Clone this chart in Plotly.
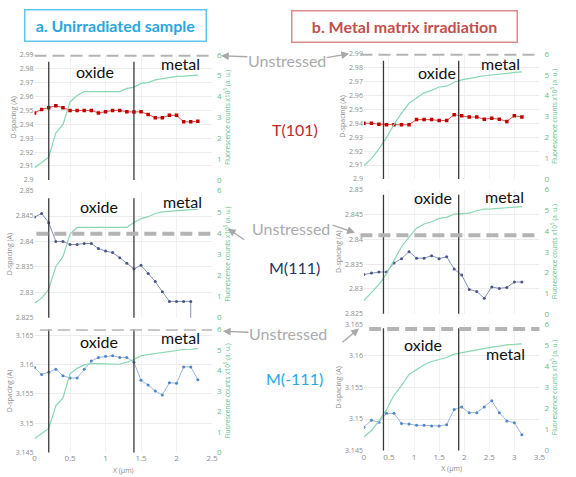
import plotly.graph_objects as go

W, H = 576, 477

# ---------------- data ----------------
x_left = [0, 0.1, 0.2, 0.3, 0.4, 0.5, 0.6, 0.7, 0.8, 0.9, 1.0, 1.1,
          1.2, 1.3, 1.4, 1.5, 1.6, 1.7, 1.8, 1.9, 2.0, 2.1, 2.2, 2.3]
x_right = [0, 0.15, 0.3, 0.45, 0.6, 0.75, 0.9, 1.05, 1.2, 1.35, 1.5, 1.65,
           1.8, 1.95, 2.1, 2.25, 2.4, 2.55, 2.7, 2.85, 3.0, 3.15]

# a. Unirradiated sample
t101_a = [2.9482, 2.9507, 2.952, 2.9533, 2.952, 2.950, 2.950, 2.950, 2.950, 2.9482,
          2.949, 2.950, 2.950, 2.949, 2.9489, 2.949, 2.9471, 2.9447, 2.9447, 2.9465,
          2.9465, 2.9418, 2.9418, 2.9423]
fl_t101_a = [0.58, 0.83, 1.09, 2.26, 2.65, 3.74, 4.05, 4.24, 4.24, 4.24, 4.24, 4.24,
             4.24, 4.39, 4.44, 4.63, 4.67, 4.80, 4.86, 4.94, 4.97, 4.98, 5.00, 5.03]
m111_a = [2.8448, 2.8455, 2.8437, 2.8400, 2.8400, 2.8394, 2.8394, 2.8396, 2.8396, 2.8386,
          2.8381, 2.8378, 2.8368, 2.8357, 2.8346, 2.8353, 2.8337, 2.8321, 2.8301, 2.8282,
          2.8282, 2.8282, 2.8282, 0.0]
fl_m111_a = [0.68, 0.92, 1.34, 2.42, 2.88, 3.95, 4.26, 4.26, 4.26, 4.26, 4.26, 4.26,
             4.26, 4.26, 4.49, 4.68, 4.77, 4.92, 5.00, 5.03, 5.06, 5.08, 5.10, 5.11]
m_111_a = [3.1595, 3.1583, 3.1587, 3.1592, 3.1581, 3.1577, 3.1577, 3.1592, 3.1606, 3.1612,
           3.1614, 3.1615, 3.1612, 3.1612, 3.1604, 3.1573, 3.1565, 3.1555, 3.1548, 3.1569,
           3.1568, 3.1596, 3.1596, 3.1574]
fl_m_111_a = [0.67, 0.94, 1.17, 2.27, 2.66, 3.83, 4.10, 4.27, 4.33, 4.33, 4.33, 4.30,
              4.30, 4.40, 4.53, 4.72, 4.77, 4.84, 4.88, 4.95, 5.00, 5.02, 5.03, 5.06]

# b. Metal matrix irradiation
t101_b = [2.940, 2.940, 2.9394, 2.939, 2.939, 2.939, 2.939, 2.9427, 2.9427, 2.9427,
          2.942, 2.942, 2.9462, 2.9455, 2.9445, 2.9445, 2.943, 2.9436, 2.943, 2.9414,
          2.9455, 2.9445]
fl_t101_b = [0.63, 0.97, 1.44, 1.98, 2.61, 3.16, 3.63, 3.86, 4.13, 4.25, 4.41, 4.45,
             4.64, 4.75, 4.83, 4.88, 4.95, 4.98, 5.03, 5.06, 5.11, 5.14]
m111_b = [2.8329, 2.8332, 2.8334, 2.8334, 2.8352, 2.8361, 2.8375, 2.8362, 2.8362, 2.8367,
          2.8361, 2.8365, 2.8340, 2.8328, 2.8299, 2.8295, 2.8281, 2.8304, 2.8301, 2.8303,
          2.8314, 2.8314]
fl_m111_b = [0.63, 1.03, 1.42, 1.93, 2.61, 3.24, 3.71, 4.14, 4.34, 4.45, 4.61, 4.66,
             4.82, 4.85, 4.87, 4.98, 5.06, 5.07, 5.10, 5.13, 5.16, 5.18]
m_111_b = [3.1487, 3.1498, 3.1495, 3.1509, 3.1509, 3.1493, 3.1492, 3.1490, 3.1490, 3.1489,
           3.1489, 3.1491, 3.1515, 3.1519, 3.1510, 3.1510, 3.1519, 3.1529, 3.1510, 3.1497,
           3.1494, 3.1475]
fl_m_111_b = [0.64, 0.95, 1.41, 1.94, 2.63, 3.09, 3.62, 3.85, 4.08, 4.24, 4.34, 4.43,
              4.59, 4.66, 4.74, 4.80, 4.88, 4.92, 4.97, 5.03, 5.05, 5.08]

# unstressed reference d-spacings (T101, M111, M-111)
unstressed_a = [2.99, 2.8415, 3.1661]
unstressed_b = [2.99, 2.8408, 3.1643]

# oxide / metal boundaries (um)
bounds_a = [0.2, 1.4]
bounds_b = [0.39, 1.89]

y_ranges = [[2.9, 2.99], [2.825, 2.85], [3.145, 3.166]]
y_ranges_b = [[2.9, 2.99], [2.825, 2.85], [3.145, 3.165]]
y_dticks = [0.01, 0.005, 0.005]
x_tick_left = [0, 0.5, 1, 1.5, 2, 2.5]
x_tick_right = [0, 0.5, 1, 1.5, 2, 2.5, 3, 3.5]

# ---------------- layout geometry (pixels) ----------------
def px(x):
    return x / W

def py(y):
    return 1 - y / H

col_x = [(33, 213), (367, 545)]
rows_y = {0: [(50, 178), (49, 177)],
          1: [(189, 319), (188, 315)],
          2: [(331, 457), (326, 455)]}

series_colors = [
    dict(marker='#c00000', line='#d9534f', size=3.5, symbol='square'),
    dict(marker='#4a5688', line='#8791b8', size=3, symbol='circle'),
    dict(marker='#4f86c6', line='#9db7de', size=3, symbol='circle'),
]
GREEN = '#8ad6b4'
GREEN_TXT = '#5dbd8c'
TICK = '#8c8c8c'

data_a = [(t101_a, fl_t101_a), (m111_a, fl_m111_a), (m_111_a, fl_m_111_a)]
data_b = [(t101_b, fl_t101_b), (m111_b, fl_m111_b), (m_111_b, fl_m_111_b)]

fig = go.Figure()
layout = dict(width=W, height=H, margin=dict(l=0, r=0, t=0, b=0),
              paper_bgcolor='white', plot_bgcolor='white', showlegend=False)
shapes = []
annotations = []

idx = 0
for r in range(3):
    for c in range(2):
        idx += 1
        xa = 'x' if idx == 1 else f'x{idx}'
        ya = 'y' if idx == 1 else f'y{idx}'
        ya2 = f'y{idx + 6}'
        xs = x_left if c == 0 else x_right
        d, fl = (data_a if c == 0 else data_b)[r]
        sc = series_colors[r]
        fig.add_trace(go.Scatter(x=xs, y=fl, mode='lines', xaxis=xa, yaxis=ya2,
                                 line=dict(color=GREEN, width=1.2), hoverinfo='skip'))
        fig.add_trace(go.Scatter(x=xs, y=d, mode='lines+markers', xaxis=xa, yaxis=ya,
                                 line=dict(color=sc['line'], width=1),
                                 marker=dict(color=sc['marker'], size=sc['size'], symbol=sc['symbol'])))
        x0, x1 = col_x[c]
        top, bot = rows_y[r][c]
        yr = (y_ranges if c == 0 else y_ranges_b)[r]
        common_font = dict(family='Open Sans', size=7, color=TICK)
        layout['xaxis' if idx == 1 else f'xaxis{idx}'] = dict(
            domain=[px(x0), px(x1)], anchor=ya,
            range=[0, 2.5] if c == 0 else [0, 3.5],
            tickvals=x_tick_left if c == 0 else x_tick_right,
            showticklabels=(r == 2), tickfont=dict(family='Open Sans', size=8, color=TICK),
            showgrid=True, gridcolor='#f1f1f1', zeroline=False, showline=False,
            ticks='', title=dict(text='X (μm)' if r == 2 else '',
                                 font=dict(family='Open Sans', size=7, color=TICK), standoff=5))
        layout['yaxis' if idx == 1 else f'yaxis{idx}'] = dict(
            domain=[py(bot), py(top)], anchor=xa, range=yr,
            tick0=yr[0], dtick=y_dticks[r], tickfont=common_font,
            showgrid=True, gridcolor='#ececec', zeroline=False, showline=False, ticks='',
            title=dict(text='D-spacing (A)', font=dict(family='Open Sans', size=7, color=TICK), standoff=2))
        layout[f'yaxis{idx + 6}'] = dict(
            domain=[py(bot), py(top)], anchor=xa, overlaying=ya, side='right',
            range=[0, 6], dtick=1, tickfont=dict(family='Open Sans', size=8, color=GREEN_TXT),
            ticklabelstandoff=4,
            showgrid=False, zeroline=False, showline=False, ticks='',
            title=dict(text='Fluorescence counts x10<sup>5</sup> (a. u.)',
                       font=dict(family='Open Sans', size=6.5, color=GREEN_TXT), standoff=3))
        bounds = bounds_a if c == 0 else bounds_b
        vtop = [[0.945, 0.94, 1.0], [0.945, 0.96, 0.97]][c][r]
        for b in bounds:
            shapes.append(dict(type='line', xref=xa, yref=f'{ya} domain', x0=b, x1=b, y0=0, y1=vtop,
                               line=dict(color='#3a3a3a', width=1.3)))
        u = (unstressed_a if c == 0 else unstressed_b)[r]
        dstart = [[0.0, 0.01, 0.03], [-0.02, -0.02, 0.03]][c][r]
        shapes.append(dict(type='line', xref=f'{xa} domain', yref=ya, x0=dstart, x1=1.0, y0=u, y1=u,
                           line=dict(color='#b4b4b4', width=4, dash='12px,6px')))

fig.update_layout(**layout)

def label(x, y, text, font):
    annotations.append(dict(x=px(x), y=py(y), xref='paper', yref='paper', text=text,
                            showarrow=False, font=font, xanchor='center', yanchor='middle'))

lab_font = dict(family='Lato', size=16, color='#111111')
oxide_pos = [(94, 67), (441, 68), (98, 205), (437, 196), (98, 343), (427, 346)]
metal_pos = [(181, 59), (506, 59), (183, 200), (510, 195), (181, 339), (511, 356)]
for (x, y) in oxide_pos:
    label(x, y, 'oxide', lab_font)
for (x, y) in metal_pos:
    label(x, y, 'metal', lab_font)

refl = [('T(101)', 297, 126, '#c0282d'), ('M(111)', 297, 268, '#1f3864'), ('M(-111)', 297, 381, '#29a8e0')]
for t, x, y, col in refl:
    label(x, y, t, dict(family='Lato', size=16, color=col))

uns_font = dict(family='Lato', size=16, color='#ababab')
for (x, y) in [(289, 56), (293, 228), (290, 335)]:
    label(x, y, 'Unstressed', uns_font)
arrows = [((222, 51), (250, 52)), ((352, 49), (328, 53)),
          ((229, 228), (247, 240)), ((358, 232), (334, 224)),
          ((224, 333), (251, 334)), ((362, 330), (344, 345))]
for (hx, hy), (tx, ty) in arrows:
    annotations.append(dict(x=px(hx), y=py(hy), xref='paper', yref='paper', text='',
                            showarrow=True, ax=tx - hx, ay=ty - hy, arrowcolor='#a8a8a8',
                            arrowwidth=1.3, arrowhead=2, arrowsize=1.2))

annotations.append(dict(x=px(115.5), y=py(20), xref='paper', yref='paper',
                        xanchor='center', yanchor='middle',
                        text='<b>a. Unirradiated sample</b>', showarrow=False,
                        font=dict(family='Lato', size=16, color='#2aa6de'),
                        bordercolor='#5cc6ef', borderwidth=1.5, borderpad=0,
                        width=180, height=30, bgcolor='white'))
annotations.append(dict(x=px(408.5), y=py(20.5), xref='paper', yref='paper',
                        xanchor='center', yanchor='middle',
                        text='<b>b. Metal matrix irradiation</b>', showarrow=False,
                        font=dict(family='Lato', size=16, color='#c0504d'),
                        bordercolor='#d98c8c', borderwidth=1.5, borderpad=0,
                        width=224, height=30, bgcolor='white'))

fig.update_layout(shapes=shapes, annotations=annotations)
fig.write_html('out.html')
